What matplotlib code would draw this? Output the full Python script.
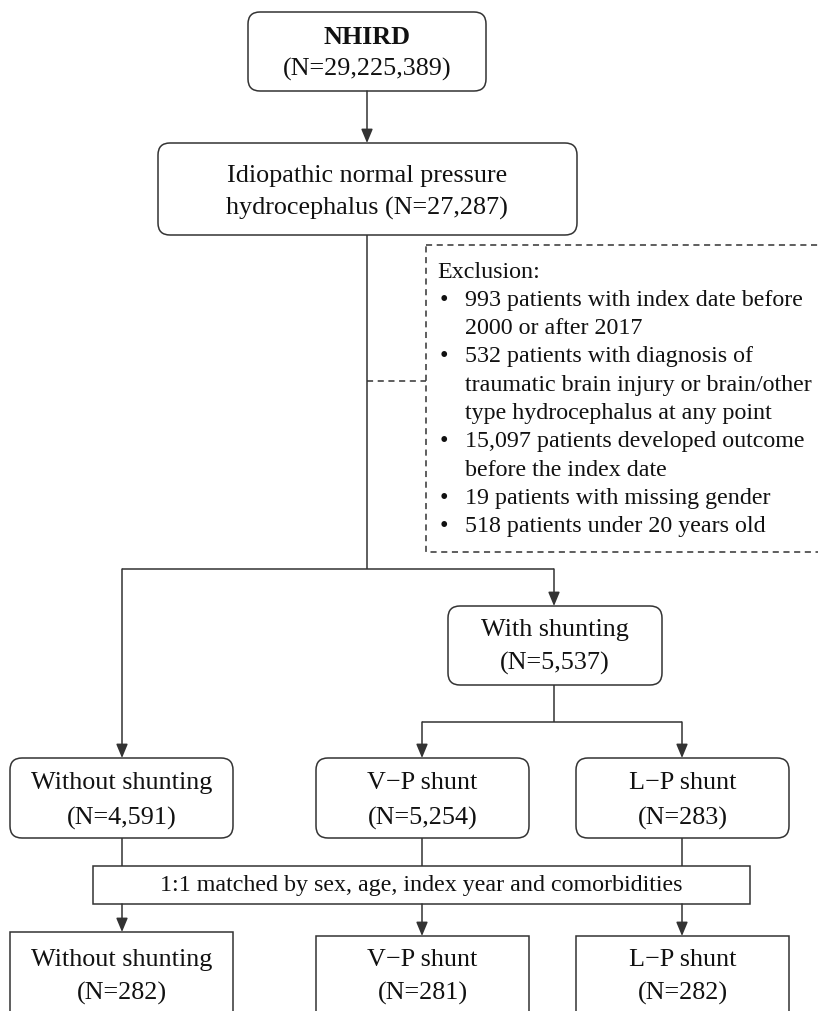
import matplotlib.pyplot as plt
from matplotlib.patches import FancyBboxPatch, Rectangle

# chart content
source_name = "NHIRD"
source_n = 29225389
cohort_lines = ["Idiopathic normal pressure", "hydrocephalus (N=27,287)"]
exclusion_header = "Exclusion:"
exclusion_items = [
    ["993 patients with index date before", "2000 or after 2017"],
    ["532 patients with diagnosis of", "traumatic brain injury or brain/other",
     "type hydrocephalus at any point"],
    ["15,097 patients developed outcome", "before the index date"],
    ["19 patients with missing gender"],
    ["518 patients under 20 years old"],
]
shunt_label = "With shunting"
shunt_n = 5537
group_names = ["Without shunting", "V\u2212P shunt", "L\u2212P shunt"]
group_n = [4591, 5254, 283]
matching_note = "1:1 matched by sex, age, index year and comorbidities"
matched_n = [282, 281, 282]

W, H = 818, 1011
LC = "#333333"
FS = 18.8
EXS = 17.3
plt.rcParams['font.family'] = ['Liberation Serif', 'DejaVu Serif']

fig = plt.figure(figsize=(W / 100, H / 100), dpi=100)
ax = fig.add_axes([0, 0, 1, 1])
ax.set_xlim(0, W)
ax.set_ylim(H, 0)
ax.axis('off')


def box(x0, y0, x1, y1, rounded=True, ls='-'):
    if rounded:
        p = FancyBboxPatch((x0, y0), x1 - x0, y1 - y0,
                           boxstyle="round,pad=0,rounding_size=12",
                           fc='white', ec=LC, lw=1.1, ls=ls)
    else:
        p = Rectangle((x0, y0), x1 - x0, y1 - y0, fc='white', ec=LC, lw=1.1, ls=ls)
    ax.add_patch(p)


def line(xs, ys, ls='-'):
    ax.plot(xs, ys, color=LC, lw=1.1, ls=ls, solid_capstyle='butt')


def arrow(x, y0, y1):
    ax.annotate('', xy=(x, y1), xytext=(x, y0),
                arrowprops=dict(arrowstyle='-|>,head_length=0.6,head_width=0.25',
                                color=LC, lw=1.1, shrinkA=0, shrinkB=0,
                                mutation_scale=14))


def txt(x, y, s, size=FS, **kw):
    ax.text(x, y, s, ha='center', va='center', fontsize=size, color='#111111', **kw)


def fmt(n):
    return "(N={:,})".format(n)


# top source box
box(248, 12, 486, 91)
txt(367, 38, source_name, weight='bold')
txt(367, 69, fmt(source_n))
arrow(367, 91, 143)

# cohort box
box(158, 143, 577, 235)
txt(367, 176, cohort_lines[0])
txt(367, 208, cohort_lines[1])

# trunk and exclusion
line([367, 367], [235, 569])
line([367, 426], [381, 381], ls=(0, (4, 3)))
ax.add_patch(Rectangle((426, 245), 440, 307, fc='white', ec=LC, lw=1.1,
                       ls=(0, (4, 3))))
ex_y = 272
ex_step = 28.3
ax.text(437, ex_y, exclusion_header, ha='left', va='center', fontsize=EXS, color='#111111')
k = 1
for item in exclusion_items:
    ax.text(440, ex_y + k * ex_step, "\u2022", ha='left', va='center', fontsize=EXS,
            color='#111111')
    for ln in item:
        ax.text(465, ex_y + k * ex_step, ln, ha='left', va='center', fontsize=EXS,
                color='#111111')
        k += 1

# split
gx = [122, 422, 682]
line([gx[0], 554], [569, 569])
arrow(gx[0], 569, 758)
arrow(554, 569, 606)
box(448, 606, 662, 685)
txt(555, 630, shunt_label)
txt(555, 663, fmt(shunt_n))
line([554, 554], [685, 722])
line([gx[1], gx[2]], [722, 722])
arrow(gx[1], 722, 758)
arrow(gx[2], 722, 758)

# group boxes
widths = [(10, 233), (316, 529), (576, 789)]
for (x0, x1), cx, name, n in zip(widths, gx, group_names, group_n):
    box(x0, 758, x1, 838)
    txt((x0 + x1) / 2, 783, name)
    txt((x0 + x1) / 2, 818, fmt(n))
    line([cx, cx], [838, 866])

# matching step
box(93, 866, 750, 904, rounded=False)
txt(421, 885, matching_note, size=17.3)

# matched boxes
tops = [932, 936, 936]
for (x0, x1), cx, top, name, n in zip(widths, gx, tops, group_names, matched_n):
    arrow(cx, 904, top)
    box(x0, top, x1, 1040, rounded=False)
    txt((x0 + x1) / 2, 960, name)
    txt((x0 + x1) / 2, 993, fmt(n))

fig.savefig("out.png", dpi=100)
